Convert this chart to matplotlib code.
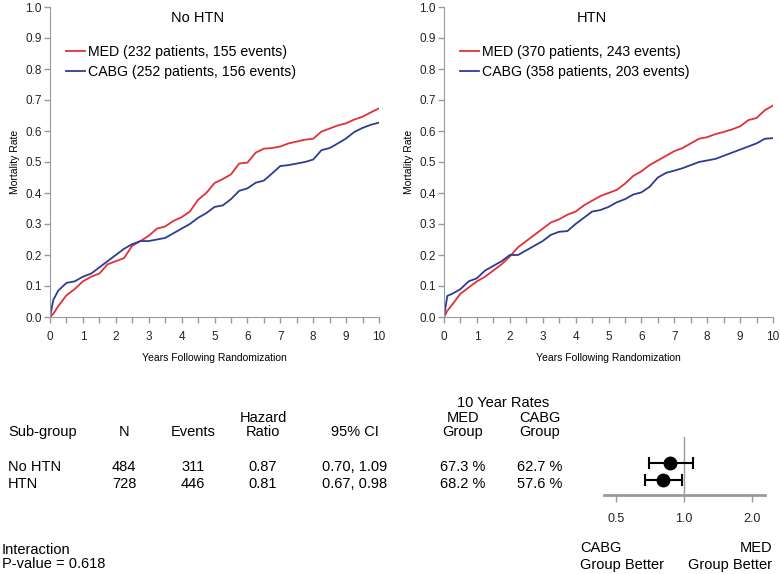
import numpy as np
import matplotlib
matplotlib.use('Agg')
import matplotlib.pyplot as plt

plt.rcParams['font.family'] = ['Liberation Sans', 'DejaVu Sans']

# follow-up times (years)
years = [0, 0.1, 0.25, 0.5, 0.75, 1.0, 1.25, 1.5, 1.75, 2.0, 2.25, 2.5, 2.75,
         3.0, 3.25, 3.5, 3.75, 4.0, 4.25, 4.5, 4.75, 5.0, 5.25, 5.5, 5.75,
         6.0, 6.25, 6.5, 6.75, 7.0, 7.25, 7.5, 7.75, 8.0, 8.25, 8.5, 8.75,
         9.0, 9.25, 9.5, 9.75, 10.0]

# mortality, No HTN
nohtn_med = [0, 0.01, 0.035, 0.07, 0.09, 0.115, 0.13, 0.14, 0.17, 0.18, 0.19,
             0.23, 0.245, 0.262, 0.285, 0.292, 0.31, 0.322, 0.34, 0.378, 0.40,
             0.432, 0.445, 0.46, 0.495, 0.498, 0.53, 0.543, 0.545, 0.55, 0.56,
             0.566, 0.572, 0.575, 0.598, 0.608, 0.618, 0.625, 0.637, 0.646,
             0.66, 0.673]
nohtn_cabg = [0, 0.055, 0.085, 0.11, 0.115, 0.13, 0.14, 0.16, 0.18, 0.2, 0.22,
              0.235, 0.245, 0.245, 0.25, 0.255, 0.27, 0.285, 0.3, 0.32, 0.335,
              0.355, 0.36, 0.38, 0.407, 0.415, 0.433, 0.44, 0.463, 0.487, 0.49,
              0.495, 0.5, 0.508, 0.538, 0.545, 0.56, 0.576, 0.597, 0.61, 0.62,
              0.627]

# mortality, HTN
htn_med = [0, 0.02, 0.04, 0.075, 0.095, 0.115, 0.13, 0.15, 0.17, 0.195, 0.225,
           0.245, 0.265, 0.285, 0.305, 0.315, 0.33, 0.34, 0.36, 0.375, 0.39,
           0.40, 0.41, 0.43, 0.455, 0.47, 0.49, 0.505, 0.52, 0.535, 0.545,
           0.56, 0.575, 0.58, 0.59, 0.597, 0.605, 0.615, 0.635, 0.642, 0.667,
           0.682]
htn_cabg = [0, 0.068, 0.075, 0.09, 0.115, 0.125, 0.15, 0.165, 0.18, 0.2, 0.2,
            0.215, 0.23, 0.245, 0.265, 0.275, 0.277, 0.3, 0.32, 0.34, 0.345,
            0.355, 0.37, 0.38, 0.395, 0.402, 0.42, 0.45, 0.465, 0.472, 0.48,
            0.49, 0.5, 0.505, 0.51, 0.52, 0.53, 0.54, 0.55, 0.56, 0.575, 0.577]

panel_titles = ['No HTN', 'HTN']
med_patients = [232, 370]
med_events = [155, 243]
cabg_patients = [252, 358]
cabg_events = [156, 203]

# subgroup table
subgroups = ['No HTN', 'HTN']
n_total = [484, 728]
n_events = [311, 446]
hazard_ratio = [0.87, 0.81]
ci_low = [0.70, 0.67]
ci_high = [1.09, 0.98]
rate_med = [67.3, 68.2]
rate_cabg = [62.7, 57.6]
p_interaction = 0.618

RED = '#e0303a'
BLUE = '#2e3d8f'
GRAY = '#9a9a9a'
W, H = 780, 574


def fx(px):
    return px / W


def fy(py):
    return 1 - py / H


fig = plt.figure(figsize=(7.8, 5.74), dpi=100)

curves = [(nohtn_med, nohtn_cabg), (htn_med, htn_cabg)]
lefts = [50, 444]
for i in range(2):
    ax = fig.add_axes([fx(lefts[i]), fy(317), fx(329), 310 / H])
    med, cabg = curves[i]
    ax.plot(years, med, color=RED, lw=1.3,
            label='MED (%d patients, %d events)' % (med_patients[i], med_events[i]))
    ax.plot(years, cabg, color=BLUE, lw=1.3,
            label='CABG (%d patients, %d events)' % (cabg_patients[i], cabg_events[i]))
    ax.set_xlim(0, 10)
    ax.set_ylim(0, 1)
    ax.set_xticks(range(11))
    ax.set_xticks(np.arange(0.5, 10, 1), minor=True)
    ax.set_yticks(np.arange(0, 1.01, 0.1))
    ax.set_yticklabels(['%.1f' % v for v in np.arange(0, 1.01, 0.1)])
    for s in ['top', 'right']:
        ax.spines[s].set_visible(False)
    for s in ['left', 'bottom']:
        ax.spines[s].set_color(GRAY)
    ax.tick_params(axis='both', which='both', direction='out', color=GRAY,
                   length=4, width=1, labelsize=8.5, labelcolor='#222222')
    ax.tick_params(axis='x', pad=6)
    ax.tick_params(axis='y', pad=2)
    ax.set_xlabel('Years Following Randomization', fontsize=7.5, labelpad=7)
    ax.set_ylabel('Mortality Rate', fontsize=7.5, labelpad=4)
    ax.text(4.5, 0.965, panel_titles[i], ha='center', va='center', fontsize=10.5)
    ax.legend(loc='upper left', bbox_to_anchor=(0.05, 0.878), frameon=False,
              fontsize=10.2, handlelength=1.3, handletextpad=0.2,
              borderpad=0, borderaxespad=0, labelspacing=0.45)

# table
fs = 10.5
fig.text(fx(503), fy(403), '10 Year Rates', ha='center', va='center', fontsize=fs)
fig.text(fx(263), fy(418), 'Hazard', ha='center', va='center', fontsize=fs)
fig.text(fx(463), fy(418), 'MED', ha='center', va='center', fontsize=fs)
fig.text(fx(540), fy(418), 'CABG', ha='center', va='center', fontsize=fs)
fig.text(fx(8), fy(432), 'Sub-group', ha='left', va='center', fontsize=fs)
headers = ['N', 'Events', 'Ratio', '95% CI', 'Group', 'Group']
col_x = [124, 193, 263, 355, 463, 540]
for h, x in zip(headers, col_x):
    fig.text(fx(x), fy(432), h, ha='center', va='center', fontsize=fs)

row_y = [467, 484]
for j in range(len(subgroups)):
    cells = [str(n_total[j]), str(n_events[j]), '%.2f' % hazard_ratio[j],
             '%.2f, %.2f' % (ci_low[j], ci_high[j]),
             '%.1f %%' % rate_med[j], '%.1f %%' % rate_cabg[j]]
    fig.text(fx(8), fy(row_y[j]), subgroups[j], ha='left', va='center', fontsize=fs)
    for c, x in zip(cells, col_x):
        fig.text(fx(x), fy(row_y[j]), c, ha='center', va='center', fontsize=fs)

fig.text(fx(2), fy(550), 'Interaction', ha='left', va='center', fontsize=fs)
fig.text(fx(2), fy(564), 'P-value = %.3f' % p_interaction, ha='left', va='center', fontsize=fs)

# forest plot
fa = fig.add_axes([fx(604), fy(495), fx(161), 58 / H])
ypos = [2, 1]
xerr = [np.array(hazard_ratio) - np.array(ci_low), np.array(ci_high) - np.array(hazard_ratio)]
fa.axvline(1.0, color=GRAY, lw=1, zorder=1)
fa.errorbar(hazard_ratio, ypos, xerr=xerr, fmt='o', color='black', ms=9,
            elinewidth=1.5, capsize=4, capthick=1.5, zorder=3)
fa.set_xscale('log')
fa.set_xlim(0.442, 2.28)
fa.set_ylim(0.12, 3.53)
fa.set_xticks([0.5, 1.0, 2.0])
fa.set_xticklabels(['0.5', '1.0', '2.0'])
fa.minorticks_off()
fa.set_yticks([])
for s in ['top', 'right', 'left']:
    fa.spines[s].set_visible(False)
fa.spines['bottom'].set_color(GRAY)
fa.spines['bottom'].set_linewidth(2)
fa.tick_params(axis='x', direction='out', color=GRAY, length=5, width=1,
               labelsize=9, pad=8, labelcolor='#222222')
fa.patch.set_alpha(0)

fig.text(fx(580), fy(548), 'CABG', ha='left', va='center', fontsize=fs)
fig.text(fx(580), fy(565), 'Group Better', ha='left', va='center', fontsize=fs)
fig.text(fx(772), fy(548), 'MED', ha='right', va='center', fontsize=fs)
fig.text(fx(772), fy(565), 'Group Better', ha='right', va='center', fontsize=fs)

fig.savefig('out.png', dpi=100)
